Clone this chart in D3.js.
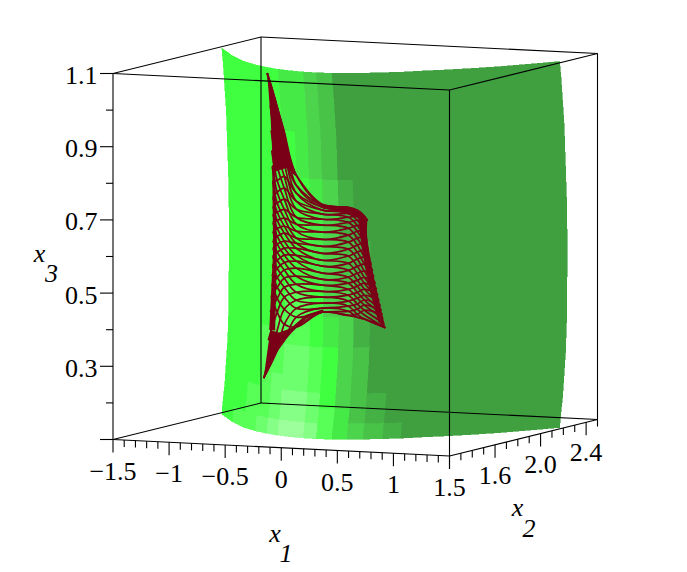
<!DOCTYPE html>
<html>
<head>
<meta charset="utf-8">
<script src="https://cdn.jsdelivr.net/npm/d3@7"></script>
<style>
  body { margin: 0; background: #fff; }
  text { font-family: "Liberation Serif", serif; font-size: 26px; fill: #000; }
  .title { font-style: italic; }
</style>
</head>
<body>
<div id="chart"></div>
<script>
// axis values
var x1Labels = [-1.5, -1, -0.5, 0, 0.5, 1, 1.5];
var x2Labels = [1.6, 2.0, 2.4];
var x3Labels = [0.3, 0.5, 0.7, 0.9, 1.1];
var x2Major = [1.2, 1.6, 2.0, 2.4];
var x3Major = [0.1, 0.3, 0.5, 0.7, 0.9, 1.1];

// green sheet: one entry per column edge, read at the floor of the box
var sheetX1 = [-1.46, -1.14, -0.89, -0.70, -0.54, -0.40, -0.26, -0.13, -0.01, 0.12, 0.23, 0.35, 0.48, 0.60, 0.71, 0.85, 1.01, 1.17, 1.32, 1.46];
var sheetX2 = [2.116, 1.896, 1.75, 1.663, 1.607, 1.565, 1.539, 1.522, 1.518, 1.527, 1.55, 1.574, 1.617, 1.659, 1.718, 1.782, 1.867, 1.97, 2.089, 2.206];
// x3 of each row edge and how far that row sits over in x1
var sheetX3 = [1.1, 1.058, 1.017, 0.975, 0.933, 0.892, 0.85, 0.808, 0.767, 0.725, 0.683, 0.642, 0.6, 0.558, 0.517, 0.475, 0.433, 0.392, 0.35, 0.308, 0.267, 0.225, 0.183, 0.142, 0.1];
var sheetBulge = [0, 0.013, 0.022, 0.031, 0.04, 0.045, 0.049, 0.054, 0.058, 0.063, 0.063, 0.067, 0.067, 0.067, 0.067, 0.063, 0.063, 0.063, 0.058, 0.054, 0.045, 0.036, 0.027, 0.013, 0];
// shade per cell, top row first. 0 dark, 5 full green, 9 palest
var sheetShade = [
  "5555544320000000000",
  "5555544320000000000",
  "5555544320000000000",
  "5555544320000000000",
  "5555554320000000000",
  "5555554320000000000",
  "5555554320000000000",
  "5555555431000000000",
  "5555555431000000000",
  "5555555431000000000",
  "5555555431000000000",
  "5555555432100000000",
  "5555555432100000000",
  "5555555432100000000",
  "5555566533100000000",
  "5555566533100000000",
  "5555666543100000000",
  "5556666543100000000",
  "5556677653200000000",
  "5556677653200000000",
  "5556777653200000000",
  "5566788753210000000",
  "5566788764210000000",
  "5667899864321000000"
];

// red mesh: x1 and x3 at each station, one row per level
var meshLeftX1 = [-0.531, -0.504, -0.496, -0.491, -0.487, -0.482, -0.48, -0.48, -0.48, -0.48, -0.48, -0.48, -0.48, -0.482, -0.484, -0.487, -0.489, -0.496, -0.504, -0.522, -0.563];
var meshRightX1 = [0.362, 0.353, 0.348, 0.346, 0.346, 0.358, 0.371, 0.383, 0.396, 0.408, 0.42, 0.433, 0.445, 0.457, 0.467, 0.478, 0.487, 0.496, 0.503, 0.513, 0.522];
var meshInnerX1 = [-0.442, -0.379, -0.272, -0.04, 0.192, 0.272, 0.335];
var meshX2 = 1.6;
var meshX3 = [
  [1.085, 0.997, 0.929, 0.874, 0.831, 0.79, 0.746, 0.721, 0.699, 0.678, 0.653, 0.628, 0.607, 0.585, 0.56, 0.535, 0.508, 0.475, 0.432, 0.355, 0.251],
  [0.993, 0.93, 0.875, 0.832, 0.793, 0.761, 0.731, 0.706, 0.684, 0.662, 0.64, 0.619, 0.597, 0.575, 0.553, 0.528, 0.501, 0.471, 0.433, 0.384, 0.329],
  [0.926, 0.882, 0.841, 0.805, 0.773, 0.743, 0.715, 0.691, 0.669, 0.65, 0.628, 0.609, 0.59, 0.57, 0.549, 0.527, 0.502, 0.475, 0.442, 0.401, 0.357],
  [0.81, 0.782, 0.761, 0.739, 0.717, 0.695, 0.676, 0.657, 0.638, 0.624, 0.61, 0.591, 0.575, 0.556, 0.534, 0.512, 0.49, 0.468, 0.446, 0.422, 0.395],
  [0.734, 0.731, 0.726, 0.718, 0.707, 0.693, 0.677, 0.658, 0.638, 0.619, 0.6, 0.581, 0.565, 0.546, 0.529, 0.513, 0.496, 0.48, 0.464, 0.45, 0.439],
  [0.729, 0.727, 0.721, 0.713, 0.702, 0.688, 0.672, 0.653, 0.634, 0.615, 0.596, 0.576, 0.557, 0.538, 0.522, 0.505, 0.489, 0.473, 0.459, 0.445, 0.434],
  [0.722, 0.72, 0.714, 0.706, 0.695, 0.681, 0.665, 0.646, 0.627, 0.608, 0.589, 0.569, 0.55, 0.531, 0.515, 0.498, 0.482, 0.466, 0.452, 0.438, 0.43],
  [0.707, 0.704, 0.699, 0.691, 0.68, 0.666, 0.65, 0.633, 0.614, 0.595, 0.576, 0.557, 0.54, 0.524, 0.508, 0.491, 0.478, 0.464, 0.45, 0.437, 0.426],
  [0.695, 0.681, 0.667, 0.654, 0.64, 0.624, 0.607, 0.591, 0.575, 0.558, 0.542, 0.525, 0.509, 0.493, 0.479, 0.465, 0.452, 0.441, 0.43, 0.416, 0.405]
];
// level offset of each family at each station
var familyA = [3, 2, 1, 0, 0, 0, 1, 2, 3];
var familyB = [-3, -2, -1, 0, 1, 0, -1, -2, -3];

// parts of the mesh where the lines run together, [x1, x3]
var meshSolid = [
  [[-0.531, 1.085], [-0.415, 0.966], [-0.317, 0.85], [-0.263, 0.804], [-0.362, 0.828], [-0.478, 0.815], [-0.5, 0.957]],
  [[-0.487, 0.834], [-0.46, 0.834], [-0.445, 0.602], [-0.46, 0.383], [-0.513, 0.383], [-0.478, 0.602]],
  [[-0.563, 0.251], [-0.445, 0.329], [-0.326, 0.377], [-0.183, 0.42], [-0.031, 0.439], [-0.031, 0.447], [-0.183, 0.43], [-0.326, 0.39], [-0.424, 0.378], [-0.504, 0.383]],
  [[0.362, 0.695], [0.346, 0.64], [0.522, 0.405], [0.46, 0.42], [0.37, 0.519], [0.308, 0.627], [0.281, 0.701], [0.12, 0.715], [-0.04, 0.723], [-0.04, 0.734], [0.192, 0.729], [0.272, 0.722], [0.335, 0.707]]
];

var width = 687, height = 572;
var red = "#7a0018";

// the box is drawn straight on: x1 runs along one edge, x2 along the other, x3 up
var x1Across = d3.scaleLinear().domain([-1.5, 1.5]).range([113, 449.5]);
var x1Down = d3.scaleLinear().domain([-1.5, 1.5]).range([0, 16.5]);
var x2Across = d3.scaleLinear().domain([1.2, 2.5]).range([0, 148]);
var x2Down = d3.scaleLinear().domain([1.2, 2.5]).range([0, -36.5]);
var x3Up = d3.scaleLinear().domain([0.1, 1.1]).range([439.5, 73.5]);

function project(x1, x2, x3) {
  return [x1Across(x1) + x2Across(x2), x3Up(x3) + x1Down(x1) + x2Down(x2)];
}

var shadeColor = d3.scaleLinear()
  .domain([0, 3, 5, 9])
  .range(["#40a040", "#4cd44c", "#40ff40", "#9cff9c"]);

var svg = d3.select("#chart").append("svg")
  .attr("width", width)
  .attr("height", height);

// SHEET
var cells = [];
sheetShade.forEach(function(row, r) {
  d3.range(sheetX1.length - 1).forEach(function(c) {
    cells.push({r: r, c: c, shade: +row[c]});
  });
});

function sheetPoint(r, c) {
  return project(sheetX1[c] + sheetBulge[r], sheetX2[c], sheetX3[r]);
}

svg.append("g").selectAll("path")
  .data(cells)
  .enter().append("path")
  .attr("d", function(d) {
    return d3.line()([
      sheetPoint(d.r, d.c), sheetPoint(d.r, d.c + 1),
      sheetPoint(d.r + 1, d.c + 1), sheetPoint(d.r + 1, d.c)
    ]) + "Z";
  })
  .attr("shape-rendering", "crispEdges")
  .style("fill", function(d) { return shadeColor(d.shade); })
  .style("stroke", function(d) { return shadeColor(d.shade); })
  .style("stroke-width", 0.6);

// MESH
var stationCount = meshX3.length;
var levelCount = meshX3[0].length;

function meshPoint(station, level) {
  var l = Math.max(0, Math.min(levelCount - 1, level));
  var x1;
  if (station == 0) x1 = meshLeftX1[l];
  else if (station == stationCount - 1) x1 = meshRightX1[l];
  else x1 = meshInnerX1[station - 1];
  return project(x1, meshX2, meshX3[station][l]);
}

var meshLine = d3.line().curve(d3.curveCatmullRom.alpha(0.5));
var meshG = svg.append("g");

meshG.selectAll("path.solid")
  .data(meshSolid)
  .enter().append("path")
  .attr("class", "solid")
  .attr("d", function(d) {
    return d3.line()(d.map(function(p) { return project(p[0], meshX2, p[1]); })) + "Z";
  })
  .style("fill", red);

[familyA, familyB].forEach(function(family) {
  meshG.append("g").selectAll("path")
    .data(d3.range(levelCount))
    .enter().append("path")
    .attr("d", function(level) {
      return meshLine(family.map(function(offset, station) {
        return meshPoint(station, level + offset);
      }));
    })
    .style("fill", "none")
    .style("stroke", red)
    .style("stroke-width", 1.7);
});

// BOX
var corners = {
  a: [-1.5, 1.2], b: [1.5, 1.2], c: [1.5, 2.5], d: [-1.5, 2.5]
};
var boxEdges = [["a", "b"], ["b", "c"], ["c", "d"], ["d", "a"]];

function segment(g, p, q) {
  g.append("line")
    .attr("x1", p[0]).attr("y1", p[1])
    .attr("x2", q[0]).attr("y2", q[1])
    .style("stroke", "#000")
    .style("stroke-width", 1.1);
}

var boxG = svg.append("g");
boxEdges.forEach(function(e) {
  var p = corners[e[0]], q = corners[e[1]];
  segment(boxG, project(p[0], p[1], 0.1), project(q[0], q[1], 0.1));
  segment(boxG, project(p[0], p[1], 1.1), project(q[0], q[1], 1.1));
});
Object.keys(corners).forEach(function(k) {
  var p = corners[k];
  segment(boxG, project(p[0], p[1], 0.1), project(p[0], p[1], 1.1));
});

// TICKS
var tickG = svg.append("g");
var majorLen = 13, minorLen = 7;

x1Across.ticks(30).forEach(function(v) {
  var p = project(v, 1.2, 0.1);
  var major = x1Labels.some(function(m) { return Math.abs(m - v) < 1e-6; });
  segment(tickG, p, [p[0], p[1] + (major ? majorLen : minorLen)]);
});
x2Across.ticks(13).forEach(function(v) {
  var p = project(1.5, v, 0.1);
  var major = x2Major.some(function(m) { return Math.abs(m - v) < 1e-6; });
  segment(tickG, p, [p[0], p[1] + (major ? majorLen : minorLen)]);
});
x3Up.ticks(10).forEach(function(v) {
  var p = project(-1.5, 1.2, v);
  var major = x3Major.some(function(m) { return Math.abs(m - v) < 1e-6; });
  segment(tickG, p, [p[0] - (major ? majorLen : minorLen), p[1]]);
});

// LABELS
function numText(v, digits) {
  return d3.format(digits)(v).replace("-", "\u2212");
}

svg.append("g").selectAll("text")
  .data(x1Labels)
  .enter().append("text")
  .attr("x", function(d) { return project(d, 1.2, 0.1)[0]; })
  .attr("y", function(d) { return project(d, 1.2, 0.1)[1] + 40; })
  .attr("text-anchor", "middle")
  .text(function(d) { return numText(d, ""); });

svg.append("g").selectAll("text")
  .data(x2Labels)
  .enter().append("text")
  .attr("x", function(d) { return project(1.5, d, 0.1)[0]; })
  .attr("y", function(d) { return project(1.5, d, 0.1)[1] + 39; })
  .attr("text-anchor", "middle")
  .text(function(d) { return numText(d, ".1f"); });

svg.append("g").selectAll("text")
  .data(x3Labels)
  .enter().append("text")
  .attr("x", 97.5)
  .attr("y", function(d) { return x3Up(d) + 10.5; })
  .attr("text-anchor", "end")
  .text(function(d) { return numText(d, ".1f"); });

// axis titles, the subscript sits low and to the right
var axisTitles = [
  {name: "x", sub: "1", x: 275, y: 541.5, subX: 286, subY: 561.5},
  {name: "x", sub: "2", x: 517.5, y: 516, subX: 529, subY: 536.5},
  {name: "x", sub: "3", x: 39.5, y: 261.5, subX: 51.5, subY: 281.5}
];
axisTitles.forEach(function(t) {
  svg.append("text").attr("class", "title").attr("x", t.x).attr("y", t.y)
    .attr("text-anchor", "middle").text(t.name);
  svg.append("text").attr("class", "title").attr("x", t.subX).attr("y", t.subY)
    .attr("text-anchor", "middle").text(t.sub);
});
</script>
</body>
</html>
